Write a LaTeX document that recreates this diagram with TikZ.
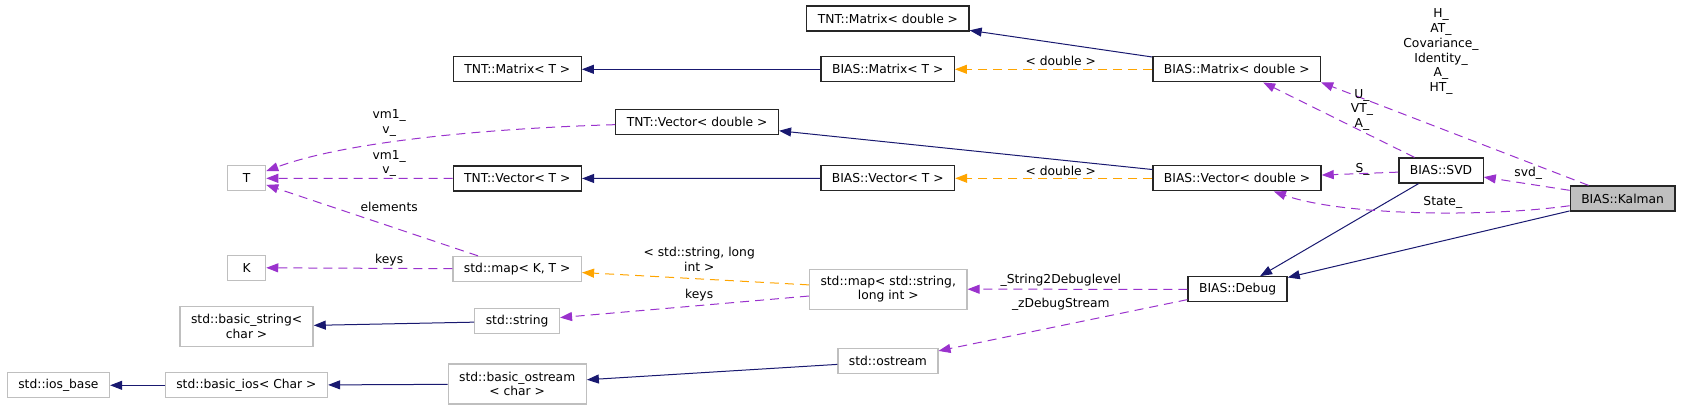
\documentclass[tikz,border=0pt]{standalone}
\usepackage{fontspec}
\setmainfont{DejaVu Sans}
\usetikzlibrary{arrows.meta}

\definecolor{edgeblue}{HTML}{191970}
\definecolor{edgepurple}{HTML}{9A32CD}
\definecolor{edgeorange}{HTML}{FFA500}
\definecolor{boxgray}{HTML}{BFBFBF}

\begin{document}
\begin{tikzpicture}[x=1pt,y=-1pt,
  font=\fontsize{12.3}{14.7}\selectfont,
  every node/.style={inner xsep=11pt,inner ysep=0pt,minimum height=25pt,minimum width=38pt,align=center},
  cls/.style={draw=black!85,line width=1.3pt},
  ext/.style={draw=boxgray,line width=1.3pt},
  cur/.style={cls,fill=boxgray},
  two/.style={minimum height=40pt},
  lbl/.style={inner sep=0pt,minimum height=0pt,minimum width=0pt},
  inh/.style={edgeblue,line width=1pt,-{Triangle[length=12pt,width=9pt]}},
  use/.style={edgepurple,line width=1pt,dash pattern=on 9pt off 6pt,-{Triangle[length=12pt,width=9pt]}},
  tpl/.style={edgeorange,line width=1pt,dash pattern=on 9pt off 6pt,-{Triangle[length=12pt,width=9pt]}}]

\useasboundingbox (0,0) rectangle (1683,409);

\node[cls] (1) at (887.9,18.5){TNT::Matrix< double >};
\node[cls] (2) at (517.3,69.3){TNT::Matrix< T >};
\node[cls] (3) at (887.7,69.3){BIAS::Matrix< T >};
\node[cls] (4) at (1236.7,69.3){BIAS::Matrix< double >};
\node[cls] (5) at (697.1,122.3){TNT::Vector< double >};
\node[ext] (6) at (246.6,178.3){T};
\node[cls] (7) at (517.3,178.5){TNT::Vector< T >};
\node[cls] (8) at (887.7,178.3){BIAS::Vector< T >};
\node[cls] (9) at (1237,178.3){BIAS::Vector< double >};
\node[cls] (10) at (1441,170.5){BIAS::SVD};
\node[cur] (11) at (1622.6,198.5){BIAS::Kalman};
\node[ext] (12) at (246.6,267.7){K};
\node[ext] (13) at (517.2,269){std::map< K, T >};
\node[ext,two] (14) at (888.2,289.2){std::map< std::string,\\long int >};
\node[cls] (15) at (1237.6,289.3){BIAS::Debug};
\node[ext,two] (16) at (246.6,326.7){std::basic\_string<\\char >};
\node[ext] (17) at (517.1,321.3){std::string};
\node[ext] (18) at (58.4,385.3){std::ios\_base};
\node[ext] (19) at (246.4,385.3){std::basic\_ios< Char >};
\node[ext,two] (20) at (517.2,384){std::basic\_ostream\\< char >};
\node[ext] (21) at (887.9,361.3){std::ostream};

\draw[inh] (3) -- (2);
\draw[inh] (4) -- (1);
\draw[tpl] (4) -- (3);
\draw[inh] (9) -- (5);
\draw[inh] (8) -- (7);
\draw[tpl] (9) -- (8);
\draw[use] (5) .. controls (500,128) and (350,140) .. (6);
\draw[use] (7) -- (6);
\draw[use] (13) -- (6);
\draw[use] (13) -- (12);
\draw[tpl] (14) -- (13);
\draw[use] (14) -- (17);
\draw[inh] (17) -- (16);
\draw[inh] (19) -- (18);
\draw[inh] (20) -- (19);
\draw[inh] (21) -- (20);
\draw[use] (15) -- (14);
\draw[use] (15) -- (21);
\draw[inh] (10) -- (15);
\draw[inh] (11) -- (15);
\draw[use] (10) -- (4);
\draw[use] (10) -- (9);
\draw[use] (11) -- (4.south east);
\draw[use] (11) -- (10);
\draw[use] (11) .. controls (1480,218) and (1340,215) .. (9);

\node[lbl] (l1) at (389.2,123.2){vm1\_\\v\_};
\node[lbl] (l2) at (389.2,163.5){vm1\_\\v\_};
\node[lbl] (l3) at (389.2,206.7){elements};
\node[lbl] (l4) at (389.2,260){keys};
\node[lbl] (l5) at (1060.8,61){< double >};
\node[lbl] (l6) at (1060.8,170.7){< double >};
\node[lbl] (l7) at (699.2,259.2){< std::string, long\\int >};
\node[lbl] (l8) at (699.2,294.7){keys};
\node[lbl] (l9) at (1060.8,280){\_String2Debuglevel};
\node[lbl] (l10) at (1060.8,304){\_zDebugStream};
\node[lbl] (l11) at (1441,51.7){H\_\\AT\_\\Covariance\_\\Identity\_\\A\_\\HT\_};
\node[lbl] (l12) at (1362,109.7){U\_\\VT\_\\A\_};
\node[lbl] (l13) at (1362.5,169.3){S\_};
\node[lbl] (l14) at (1528.3,173.3){svd\_};
\node[lbl] (l15) at (1442.8,202.7){State\_};

\end{tikzpicture}
\end{document}
